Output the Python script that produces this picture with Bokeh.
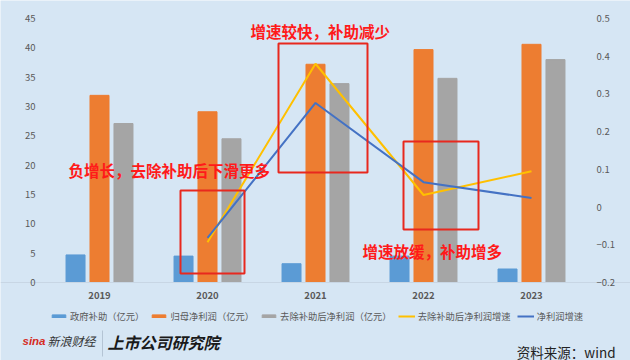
from bokeh.plotting import figure
from bokeh.models import (FactorRange, Range1d, LinearAxis, FixedTicker, Legend, LegendItem,
                          BoxAnnotation, Label, ColumnDataSource)
from bokeh.transform import dodge
from bokeh.embed import file_html
from bokeh.resources import INLINE

nan = float("nan")
years = ["2019", "2020", "2021", "2022", "2023"]
subsidy = [4.7, 4.5, 3.2, 4.5, 2.3]            # 政府补助（亿元）
net_profit = [31.9, 29.1, 37.2, 39.7, 40.6]    # 归母净利润（亿元）
net_ex_sub = [27.1, 24.5, 33.9, 34.8, 38.0]    # 去除补助后净利润（亿元）
growth_ex_sub = [nan, -0.093, 0.38, 0.032, 0.095]  # 去除补助后净利润增速
growth = [nan, -0.082, 0.276, 0.066, 0.024]        # 净利润增速

left_ticks = [0, 5, 10, 15, 20, 25, 30, 35, 40, 45]
right_ticks = [-0.2, -0.1, 0, 0.1, 0.2, 0.3, 0.4, 0.5]
legend_labels = ["政府补助（亿元）", "归母净利润（亿元）", "去除补助后净利润（亿元）",
                 "去除补助后净利润增速", "净利润增速"]

FONT = "Noto Sans CJK SC"
BG = "#D6E6F4"
LBL = "#595959"
RED = "#E8281E"
C_BLUE, C_ORANGE, C_GRAY, C_YELLOW, C_LBLUE = "#5B9BD5", "#ED7D31", "#A5A5A5", "#FFC000", "#4472C4"

W, H = 630, 360
# layout geometry (pixels): plot area 46..586 x 18..282
PX_L, PX_R, PX_T, PX_B = 46, 586, 18, 282
lpx = (PX_B - PX_T) / 45.0          # px per left-axis unit
rpx = (PX_B - PX_T) / 0.7           # px per right-axis unit

src = ColumnDataSource(dict(years=years, subsidy=subsidy, net_profit=net_profit,
                            net_ex_sub=net_ex_sub, growth_ex_sub=growth_ex_sub, growth=growth))

p = figure(width=W, height=H,
           x_range=FactorRange(*years, range_padding=1/6, range_padding_units="percent"),
           y_range=Range1d(-(H - PX_B) / lpx, 45 + PX_T / lpx),
           output_backend="svg", toolbar_location=None,
           background_fill_color=BG, border_fill_color=BG, outline_line_color=None,
           min_border=0, min_border_left=0, min_border_right=0, min_border_top=0, min_border_bottom=0)
p.extra_y_ranges = {"r": Range1d(-0.2 - (H - PX_B) / rpx, 0.5 + PX_T / rpx),
                    "py": Range1d(H, 0)}
p.xgrid.visible = False
p.ygrid.visible = False

bw = 0.176
r1 = p.vbar(x=dodge("years", -0.222, range=p.x_range), top="subsidy", width=bw, source=src, color=C_BLUE)
r2 = p.vbar(x=dodge("years", 0.0, range=p.x_range), top="net_profit", width=bw, source=src, color=C_ORANGE)
r3 = p.vbar(x=dodge("years", 0.222, range=p.x_range), top="net_ex_sub", width=bw, source=src, color=C_GRAY)
r4 = p.line(x="years", y="growth_ex_sub", source=src, y_range_name="r", line_color=C_YELLOW, line_width=2)
r5 = p.line(x="years", y="growth", source=src, y_range_name="r", line_color=C_LBLUE, line_width=2)

def xs(px):
    """pixel column -> synthetic categorical coordinate (frame spans the whole canvas)"""
    return (px - 45) / 108.0

ax = p.yaxis[0]
ax.ticker = FixedTicker(ticks=left_ticks)
ax.fixed_location = xs(PX_L)
ax.axis_line_color = None
ax.major_tick_line_color = None
ax.minor_tick_line_color = None
ax.major_label_text_font = FONT
ax.major_label_text_font_size = "9.5px"
ax.major_label_text_color = LBL
ax.major_label_standoff = 5

rax = LinearAxis(y_range_name="r", ticker=FixedTicker(ticks=right_ticks))
rax.fixed_location = xs(PX_R)
rax.major_label_overrides = {0: "0"}
rax.axis_line_color = None
rax.major_tick_line_color = None
rax.minor_tick_line_color = None
rax.major_label_text_font = FONT
rax.major_label_text_font_size = "9.5px"
rax.major_label_text_color = LBL
rax.major_label_standoff = 4
p.add_layout(rax, "right")

xa = p.xaxis[0]
xa.fixed_location = 0
xa.axis_line_color = "#C8D6E4"
xa.major_tick_line_color = None
xa.minor_tick_line_color = None
xa.major_label_text_font = FONT
xa.major_label_text_font_size = "9.5px"
xa.major_label_text_font_style = "bold"
xa.major_label_text_color = LBL
xa.major_label_standoff = 3

legend = Legend(items=[LegendItem(label=lab, renderers=[rr]) for lab, rr in
                       zip(legend_labels, [r1, r2, r3, r4, r5])],
                orientation="horizontal", location=(50, 37))
legend.background_fill_alpha = 0
legend.border_line_color = None
legend.label_text_font = FONT
legend.label_text_font_size = "9.3px"
legend.label_text_color = LBL
legend.glyph_width = 17
legend.glyph_height = 4
legend.label_standoff = 3
legend.spacing = 6
legend.padding = 2
legend.margin = 0
p.add_layout(legend, "center")

# red annotation boxes and texts (pixel positions)
for l, t, r, b in [(278, 43, 367, 172), (180, 190, 244, 273), (403, 141, 478, 229)]:
    p.add_layout(BoxAnnotation(left=xs(l), right=xs(r), top=t, bottom=b, y_range_name="py",
                               fill_alpha=0, line_color=RED, line_alpha=1.0, line_width=2))

for txt, x, y in [("增速较快，补助减少", 250, 30),
                  ("负增长，去除补助后下滑更多", 68, 169),
                  ("增速放缓，补助增多", 362, 250)]:
    p.add_layout(Label(x=xs(x), y=y, y_range_name="py", text=txt, text_font=FONT,
                       text_font_size="15.5px", text_font_style="bold", text_color="#FF1A1A",
                       text_baseline="middle", text_align="left"))

def lab(txt, x, y, size, color, font=FONT, style="normal", align="left"):
    p.add_layout(Label(x=xs(x), y=y, y_range_name="py", text=txt, text_font=font,
                       text_font_size=size, text_font_style=style, text_color=color,
                       text_baseline="middle", text_align=align))

lab("资料来源：wind", 615, 351, "13.5px", "#222222", align="right")
lab("sina", 22, 340, "11.5px", "#D52B1E", font="Liberation Sans", style="bold italic")
lab("新浪财经", 47, 340, "12px", "#333333", style="italic")
lab("上市公司研究院", 107, 341, "16px", "#1A1A1A", style="bold italic")
p.add_layout(BoxAnnotation(left=xs(101.5), right=xs(102.5), top=330, bottom=356, y_range_name="py",
                           fill_color="#B4C4D4", fill_alpha=1, line_alpha=0))

html = file_html(p, INLINE)
open("out.html", "w").write(html)
